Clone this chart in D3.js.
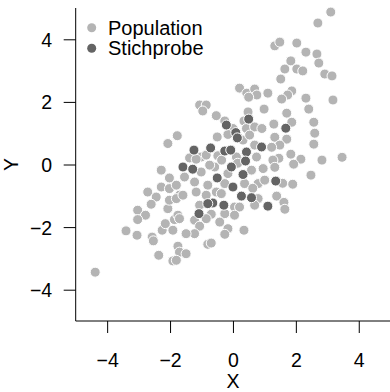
<!DOCTYPE html>
<html>
<head>
<meta charset="utf-8">
<script src="https://cdn.jsdelivr.net/npm/d3@7"></script>
<style>
  body { margin: 0; background: #fff; }
  text { font-family: "Liberation Sans", Arial, Helvetica, sans-serif; }
</style>
</head>
<body>
<svg width="390" height="392"></svg>
<script>
// population points (x, y)
const popX = [3.11, 2.70, 1.33, 1.49, 2.03, 2.32, 2.67, 2.73, 2.92, 3.15, 1.84, 1.65, 2.03, 2.22, 1.52, 1.87, 1.74, 1.55, 2.32, 3.18,
  2.41, 1.71, 1.87, 1.30, 2.57, 2.60, 1.33, 1.71, 1.49, 1.23, 2.57, 1.84, 2.16, 1.46, 1.27, 1.93, 2.83, 3.47, 1.33, 2.48,
  1.58, 1.90, 1.39, 1.62, 1.65, 0.21, 0.44, 0.69, 0.76, 1.11, 0.50, -1.06, -0.85, -0.96, -0.53, 0.48, 0.99, 0.35, -0.26, 0.00,
  -0.50, -0.16, 0.43, 0.69, 0.92, 0.32, 0.53, -1.77, -2.07, 0.69, -1.01, -1.38, -1.17, -0.48, -0.85, 0.11, 0.75, -0.58, -1.01, -0.16,
  0.59, 0.96, -1.54, -1.22, -0.80, 0.37, 0.80, -0.26, -1.17, -0.53, -2.28, -2.02, -2.28, -2.71, -2.02, -1.80, -2.44, -1.70, -2.60, -2.07,
  -3.03, -2.78, -3.03, -3.40, -3.05, -2.57, -2.53, -2.25, -2.15, -1.91, -1.86, -1.75, -2.36, -1.91, -1.75, -4.38, -2.02, -1.80, -1.59, -0.85,
  -0.37, 0.80, -1.06, 0.05, 0.21, 0.69, -0.69, -0.26, 0.05, -1.22, -0.85, -1.70, -0.42, -1.06, -1.22, -1.49, -0.16, -0.26, 0.35, -0.80,
  -0.69, -1.70, -1.49, -1.80, 1.01, 0.63, 0.15, -0.36, -0.74];
const popY = [4.87, 4.52, 3.79, 3.91, 3.88, 3.59, 3.53, 3.24, 2.89, 2.83, 3.31, 3.05, 3.05, 2.99, 2.73, 2.35, 2.22, 2.09, 2.12, 2.06,
  1.77, 1.64, 1.35, 1.29, 1.35, 1.00, 0.87, 0.81, 0.62, 0.55, 0.65, 0.33, 0.17, 0.20, 0.14, 0.01, 0.14, 0.23, -0.09, -0.34,
  -0.60, -0.63, -1.01, -1.21, -1.43, 2.44, 2.28, 2.41, 2.22, 2.28, 2.15, 1.90, 1.90, 1.71, 1.56, 1.68, 1.77, 1.39, 1.39, 1.15,
  0.88, 0.96, 1.15, 1.20, 1.15, 0.78, 0.94, 0.92, 0.67, 0.62, 0.24, 0.21, 0.17, 0.28, 0.30, 0.24, 0.24, -0.08, -0.24, -0.29,
  -0.18, -0.13, -0.40, -0.56, -0.66, -0.61, -0.61, -0.61, -0.88, -0.88, -0.18, -0.43, -0.72, -0.88, -0.77, -0.66, -1.04, -0.98, -1.27, -1.41,
  -1.46, -1.62, -1.76, -2.12, -2.26, -2.32, -2.44, -2.10, -1.89, -2.10, -1.76, -1.62, -2.90, -3.08, -2.61, -3.44, -1.14, -1.09, -0.98, -0.98,
  -0.93, -1.09, -1.30, -1.36, -1.36, -1.30, -1.59, -1.57, -1.62, -1.78, -1.73, -1.73, -1.84, -1.97, -2.21, -2.21, -2.05, -2.23, -2.10, -2.55,
  -2.51, -2.80, -2.85, -3.06, -0.50, -0.76, 0.04, 0.14, -0.02];

// sample points (Stichprobe)
const sampX = [1.68, 1.36, 1.11, 0.50, -0.21, 0.09, 0.14, 0.91, -1.24, -0.71, -0.26, -0.07, 0.43, 0.40, -1.59, -1.28, -0.05, 0.32, -0.50,
  0.00, 0.27, 0.59, -0.64, -0.80, -0.29, -1.08];
const sampY = [1.16, -0.53, -1.33, 1.45, 1.26, 1.02, 0.85, 0.56, 0.46, 0.53, 0.43, 0.46, 0.40, 0.11, -0.08, -0.15, -0.08, -0.32, -0.43,
  -0.72, -1.01, -1.06, -1.23, -1.25, -1.30, -1.57];

const xTicks = [-4, -2, 0, 2, 4];
const yTicks = [-4, -2, 0, 2, 4];
const legendLabels = ["Population", "Stichprobe"];
const colPop = "#b4b4b4", colSamp = "#646464";

const svg = d3.select("svg");
const plotLeft = 75.7, plotRight = 390.2, plotTop = 8, plotBottom = 321;

const x = d3.scaleLinear().domain([-5, 5]).range([plotLeft, plotRight]);
const y = d3.scaleLinear().domain([-5, 5]).range([plotBottom, plotTop]);

const pop = popX.map((v, i) => ({ x: v, y: popY[i] }));
const samp = sampX.map((v, i) => ({ x: v, y: sampY[i] }));

// points
svg.append("g").selectAll("circle")
  .data(pop).enter().append("circle")
  .attr("cx", d => x(d.x)).attr("cy", d => y(d.y))
  .attr("r", 5).attr("fill", colPop)
  .attr("stroke", "#fff").attr("stroke-width", 1);

svg.append("g").selectAll("circle")
  .data(samp).enter().append("circle")
  .attr("cx", d => x(d.x)).attr("cy", d => y(d.y))
  .attr("r", 5).attr("fill", colSamp)
  .attr("stroke", "#fff").attr("stroke-width", 1);

// axes (L-shaped box)
const gx = svg.append("g").attr("transform", `translate(0, ${plotBottom})`)
  .call(d3.axisBottom(x).tickValues(xTicks).tickSize(12).tickSizeOuter(0));
gx.select(".domain").remove();
gx.selectAll("text").attr("y", 45.7).attr("dy", 0)
  .attr("font-size", "19.5px").attr("fill", "#000");

const gy = svg.append("g").attr("transform", `translate(${plotLeft}, 0)`)
  .call(d3.axisLeft(y).tickValues(yTicks).tickSize(12).tickSizeOuter(0));
gy.select(".domain").remove();
gy.selectAll("text").attr("x", -23.5).attr("dy", "0.36em")
  .attr("font-size", "19.5px").attr("fill", "#000");

svg.append("path")
  .attr("d", `M${plotLeft},${plotTop}V${plotBottom}H${plotRight}`)
  .attr("fill", "none").attr("stroke", "#000").attr("stroke-width", 1);

// axis titles
svg.append("text").attr("x", x(0)).attr("y", 388)
  .attr("text-anchor", "middle").attr("font-size", "19.5px").text("X");
svg.append("text").attr("transform", `translate(18, ${y(0)}) rotate(-90)`)
  .attr("text-anchor", "middle").attr("font-size", "19.5px").text("Y");

// legend
const legend = svg.append("g");
[colPop, colSamp].forEach((c, i) => {
  legend.append("circle").attr("cx", 91.7).attr("cy", 27.7 + i * 20.6)
    .attr("r", 4.5).attr("fill", c);
  legend.append("text").attr("x", 108).attr("y", 27.7 + i * 20.6 + 7)
    .attr("font-size", "20px").text(legendLabels[i]);
});
</script>
</body>
</html>
